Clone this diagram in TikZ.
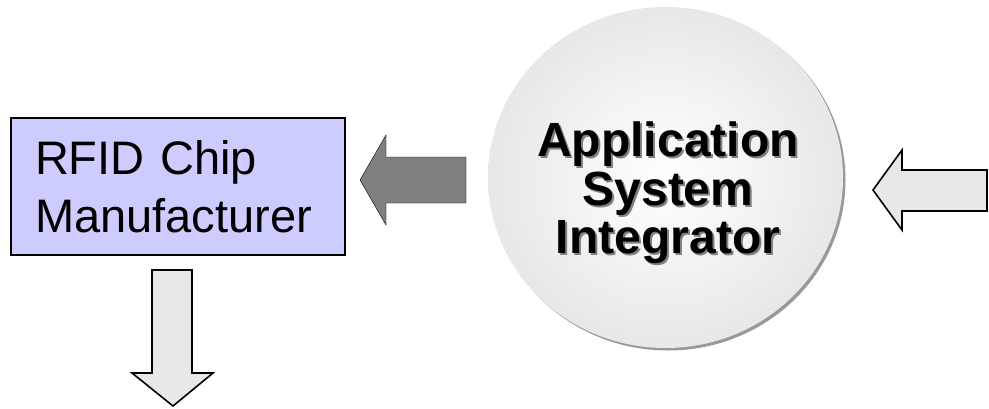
\documentclass[tikz,border=0pt]{standalone}
\usepackage{fontspec}
\setmainfont{Liberation Sans}
\usetikzlibrary{shapes.geometric, arrows}

\definecolor{chipfill}{HTML}{CCCCFF}
\definecolor{arrowfill}{HTML}{E8E8E8}
\definecolor{darkarrow}{HTML}{808080}
\definecolor{ballrim}{HTML}{D0D0D0}
\pgfdeclareradialshading{ballshade}{\pgfpointorigin}{color(0bp)=(white); color(50bp)=(ballrim)}

\newcommand{\shadowed}[2]{\leavevmode\rlap{\hspace*{2pt}\raisebox{-2pt}{\textcolor{#1}{#2}}}#2}

\tikzstyle{chipbox} = [rectangle, draw=black, line width=2pt, fill=chipfill, text width=286pt, inner xsep=24pt, minimum height=137pt, align=left, font=\fontsize{47}{58}\selectfont]
\tikzstyle{ball} = [ellipse, minimum width=355pt, minimum height=341pt, shading=ballshade]
\tikzstyle{balltext} = [align=center, font=\fontsize{48}{48.5}\selectfont\bfseries]
\tikzstyle{hollowarrow} = [draw=black, line width=1.6pt, fill=arrowfill, line join=miter]
\tikzstyle{solidarrow} = [fill=darkarrow]

\begin{document}
\begin{tikzpicture}[x=1pt, y=-1pt]
\useasboundingbox (0,0) rectangle (989,408);
\clip (0,0) rectangle (989,408);

\fill[gray!80] (668,180) ellipse [x radius=177.5pt, y radius=170.5pt];
\node (asi) [ball] at (665.5,177.5) {};
\node (asilabel) [balltext] at (668,194) {\shadowed{gray}{Application}\\ \shadowed{gray}{System}\\ \shadowed{gray}{Integrator}};

\node (chip) [chipbox] at (178,186.5) {RFID Chip\\ Manufacturer};

% block arrows
\filldraw [solidarrow] (360,180) -- (386,135) -- (386,157) -- (466,157) -- (466,203) -- (386,203) -- (386,225) -- cycle;
\filldraw [hollowarrow] (873,190) -- (902,150) -- (902,170) -- (987,170) -- (987,211) -- (902,211) -- (902,230) -- cycle;
\filldraw [hollowarrow] (152,270) -- (192,270) -- (192,373) -- (213,373) -- (173,406) -- (132,373) -- (152,373) -- cycle;
\end{tikzpicture}
\end{document}
